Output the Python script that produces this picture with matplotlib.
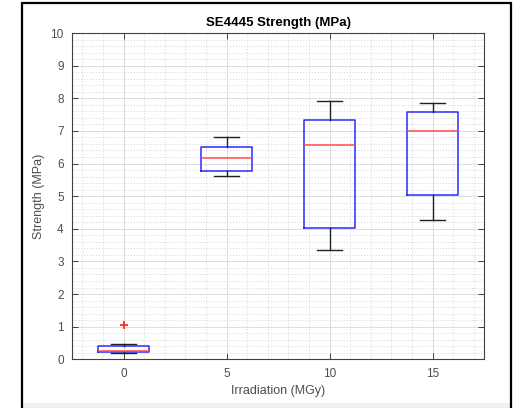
import matplotlib
matplotlib.use("Agg")
import matplotlib.pyplot as plt
from matplotlib.patches import Rectangle
from matplotlib.ticker import MultipleLocator

plt.rcParams['font.family'] = ['Liberation Sans', 'DejaVu Sans']

# Box statistics per irradiation dose
doses = [0, 5, 10, 15]
whisker_low = [0.18, 5.61, 3.34, 4.26]
q1 = [0.21, 5.77, 4.01, 5.05]
medians = [0.25, 6.17, 6.57, 6.99]
q3 = [0.41, 6.52, 7.34, 7.59]
whisker_high = [0.48, 6.81, 7.93, 7.86]
outliers = [[1.05], [], [], []]

stats = []
for i in range(len(doses)):
    stats.append(dict(med=medians[i], q1=q1[i], q3=q3[i],
                      whislo=whisker_low[i], whishi=whisker_high[i],
                      fliers=outliers[i], label=str(doses[i])))

fig = plt.figure(figsize=(5.14, 4.08), dpi=100)
ax = fig.add_axes([0.1401, 0.1194, 0.8016, 0.7997])

ax.bxp(stats, positions=doses, widths=2.5, manage_ticks=False,
       boxprops=dict(color='#2a2aff', linewidth=1.1),
       medianprops=dict(color='#ff4a4a', linewidth=1.1),
       whiskerprops=dict(color='#202020', linewidth=1.0),
       capprops=dict(color='#202020', linewidth=1.0),
       flierprops=dict(marker='+', markeredgecolor='#ff2020',
                       markersize=6, markeredgewidth=1.2, linestyle='none'))

ax.set_xlim(-2.5, 17.5)
ax.set_ylim(0, 10)
ax.set_xticks(doses)
ax.xaxis.set_minor_locator(MultipleLocator(1))
ax.yaxis.set_major_locator(MultipleLocator(1))
ax.yaxis.set_minor_locator(MultipleLocator(0.2))

ax.set_axisbelow(True)
ax.grid(which='major', color='#d8d8d8', linewidth=0.6, linestyle='-')
ax.grid(which='minor', color='#d8d8d8', linewidth=0.6, linestyle=(0, (1.5, 2)))

ax.tick_params(which='major', direction='in', length=4, width=0.7,
               top=True, right=True, color='#404040',
               labelsize=8.5, labelcolor='#4d4d4d', pad=6)
ax.tick_params(which='minor', length=0)
for s in ax.spines.values():
    s.set_color('#404040')
    s.set_linewidth(0.8)

ax.set_title('SE4445 Strength (MPa)', fontsize=9.5, fontweight='bold', pad=5)
ax.set_xlabel('Irradiation (MGy)', fontsize=9, color='#4d4d4d', labelpad=4)
ax.set_ylabel('Strength (MPa)', fontsize=9, color='#4d4d4d', labelpad=4)

# Outer frame and bottom strip
x0, x1 = 22 / 514, 511 / 514
fig.patches.append(Rectangle((x0, 0), x1 - x0, 5 / 408, transform=fig.transFigure,
                             facecolor='#f0f0f0', edgecolor='none', zorder=0))
fig.patches.append(Rectangle((x0, -0.02), x1 - x0, 1 - 3 / 408 + 0.02,
                             transform=fig.transFigure, facecolor='none',
                             edgecolor='#000000', linewidth=1.6, zorder=5))

fig.savefig('out.png', dpi=100)
